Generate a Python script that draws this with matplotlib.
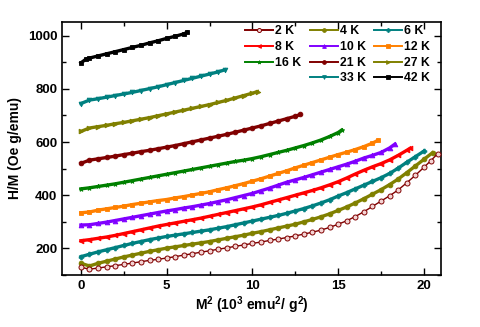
import matplotlib
matplotlib.use('Agg')
import matplotlib.pyplot as plt
from matplotlib.lines import Line2D
from matplotlib.ticker import MultipleLocator

plt.rcParams['font.family'] = ['Liberation Sans', 'DejaVu Sans']
plt.rcParams['font.weight'] = 'bold'
plt.rcParams['mathtext.fontset'] = 'custom'
plt.rcParams['mathtext.rm'] = 'Liberation Sans:bold'
plt.rcParams['mathtext.bf'] = 'Liberation Sans:bold'
plt.rcParams['mathtext.default'] = 'bf'

# ---------------- data (M^2 in 10^3 emu^2/g^2, H/M in Oe g/emu) ----------------
labels = ['2 K', '4 K', '6 K', '8 K', '10 K', '12 K', '16 K', '21 K', '27 K', '33 K', '42 K']

x_2K = [0, 0.5, 1, 1.5, 2, 2.5, 3, 3.5, 4, 4.5, 5, 5.5, 6, 6.5, 7, 7.5, 8, 8.5, 9, 9.5, 10,
        10.5, 11, 11.5, 12, 12.5, 13, 13.5, 14, 14.5, 15, 15.5, 16, 16.5, 17, 17.5, 18, 18.5,
        19, 19.5, 20, 20.4, 20.8]
y_2K = [129, 122, 126, 131, 135, 140, 145, 150, 155, 159, 164, 169, 175, 180, 186, 191, 197,
        202, 208, 213, 219, 224, 230, 235, 241, 247, 254, 261, 269, 279, 291, 304, 320, 338,
        358, 378, 398, 420, 447, 475, 505, 530, 556]

x_4K = [0, 0.5, 1, 1.5, 2, 2.5, 3, 3.5, 4, 4.5, 5, 5.5, 6, 6.5, 7, 7.5, 8, 8.5, 9, 9.5, 10,
        10.5, 11, 11.5, 12, 12.5, 13, 13.5, 14, 14.5, 15, 15.5, 16, 16.5, 17, 17.5, 18, 18.5,
        19, 19.5, 20, 20.5]
y_4K = [144, 134, 144, 152, 160, 168, 175, 182, 189, 195, 201, 206, 211, 216, 221, 226, 232,
        238, 244, 250, 257, 263, 270, 277, 284, 291, 300, 309, 319, 330, 343, 356, 371, 387,
        404, 421, 440, 461, 485, 510, 535, 560]

x_6K = [0, 0.5, 1, 1.5, 2, 2.5, 3, 3.5, 4, 4.5, 5, 5.5, 6, 6.5, 7, 7.5, 8, 8.5, 9, 9.5, 10,
        10.5, 11, 11.5, 12, 12.5, 13, 13.5, 14, 14.5, 15, 15.5, 16, 16.5, 17, 17.5, 18, 18.5,
        19, 19.5, 20]
y_6K = [169, 178, 187, 195, 203, 211, 219, 226, 233, 239, 245, 250, 255, 260, 265, 270, 276,
        282, 289, 296, 303, 310, 317, 324, 332, 341, 350, 360, 371, 383, 397, 410, 424, 438,
        452, 466, 482, 502, 524, 545, 566]

x_8K = [0, 0.5, 1, 1.5, 2, 2.5, 3, 3.5, 4, 4.5, 5, 5.5, 6, 6.5, 7, 7.5, 8, 8.5, 9, 9.5, 10,
        10.5, 11, 11.5, 12, 12.5, 13, 13.5, 14, 14.5, 15, 15.5, 16, 16.5, 17, 17.5, 18, 18.5,
        19, 19.2]
y_8K = [229, 233, 238, 243, 249, 256, 263, 270, 277, 284, 290, 296, 302, 308, 314, 321, 328,
        335, 342, 349, 356, 364, 373, 382, 391, 400, 409, 418, 428, 439, 451, 465, 480, 494,
        507, 519, 533, 550, 569, 577]

x_10K = [0, 0.5, 1, 1.5, 2, 2.5, 3, 3.5, 4, 4.5, 5, 5.5, 6, 6.5, 7, 7.5, 8, 8.5, 9, 9.5, 10,
         10.5, 11, 11.5, 12, 12.5, 13, 13.5, 14, 14.5, 15, 15.5, 16, 16.5, 17, 17.5, 18, 18.3]
y_10K = [288, 289, 294, 299, 305, 311, 317, 323, 329, 335, 341, 346, 352, 357, 363, 369, 376,
         383, 391, 399, 407, 417, 427, 438, 449, 458, 467, 477, 487, 497, 507, 517, 528, 540,
         550, 561, 578, 592]

x_12K = [0, 0.5, 1, 1.5, 2, 2.5, 3, 3.5, 4, 4.5, 5, 5.5, 6, 6.5, 7, 7.5, 8, 8.5, 9, 9.5, 10,
         10.5, 11, 11.5, 12, 12.5, 13, 13.5, 14, 14.5, 15, 15.5, 16, 16.5, 17, 17.3]
y_12K = [334, 337, 344, 349, 354, 359, 365, 370, 375, 380, 384, 390, 395, 401, 407, 413, 421,
         428, 436, 444, 453, 462, 472, 482, 492, 503, 513, 523, 533, 543, 553, 562, 572, 583,
         596, 606]

x_16K = [0, 0.5, 1, 1.5, 2, 2.5, 3, 3.5, 4, 4.5, 5, 5.5, 6, 6.5, 7, 7.5, 8, 8.5, 9, 9.5, 10,
         10.5, 11, 11.5, 12, 12.5, 13, 13.5, 14, 14.5, 15, 15.2]
y_16K = [424, 428, 433, 438, 443, 449, 455, 461, 467, 473, 479, 485, 491, 497, 503, 509, 515,
         521, 527, 532, 538, 545, 553, 561, 569, 578, 587, 597, 608, 621, 636, 645]

x_21K = [0, 0.5, 1, 1.5, 2, 2.5, 3, 3.5, 4, 4.5, 5, 5.5, 6, 6.5, 7, 7.5, 8, 8.5, 9, 9.5, 10,
         10.5, 11, 11.5, 12, 12.5, 12.8]
y_21K = [520, 532, 537, 542, 547, 553, 558, 564, 569, 575, 581, 587, 594, 601, 608, 615, 622,
         629, 637, 645, 653, 661, 670, 679, 688, 697, 704]

x_27K = [0, 0.5, 1, 1.5, 2, 2.5, 3, 3.5, 4, 4.5, 5, 5.5, 6, 6.5, 7, 7.5, 8, 8.5, 9, 9.5, 10,
         10.3]
y_27K = [640, 653, 658, 663, 669, 674, 680, 686, 692, 699, 706, 713, 720, 727, 734, 741, 749,
         757, 766, 775, 784, 790]

x_33K = [0, 0.5, 1, 1.5, 2, 2.5, 3, 3.5, 4, 4.5, 5, 5.5, 6, 6.5, 7, 7.5, 8, 8.4]
y_33K = [745, 758, 763, 769, 775, 781, 787, 794, 801, 808, 816, 824, 832, 840, 848, 856, 864,
         872]

x_42K = [0, 0.3, 0.5, 1, 1.5, 2, 2.5, 3, 3.5, 4, 4.5, 5, 5.5, 6, 6.2]
y_42K = [898, 912, 916, 924, 932, 940, 948, 956, 964, 973, 981, 990, 998, 1007, 1013]

xs = [x_2K, x_4K, x_6K, x_8K, x_10K, x_12K, x_16K, x_21K, x_27K, x_33K, x_42K]
ys = [y_2K, y_4K, y_6K, y_8K, y_10K, y_12K, y_16K, y_21K, y_27K, y_33K, y_42K]

colors = ['#800000', '#808000', '#008080', '#FF0000', '#8000FF', '#FF8000',
          '#008000', '#800000', '#808000', '#008080', '#000000']
markers = ['o', 'o', 'P', '<', '^', 's', '*', 'o', '>', 'v', 's']

# ---------------- figure ----------------
fig = plt.figure(figsize=(4.81, 3.27), dpi=100)
ax = fig.add_axes([0.129, 0.159, 0.788, 0.774])

handles = []
for i, (x, y, c, m, lab) in enumerate(zip(xs, ys, colors, markers, labels)):
    if i == 0:
        kw = dict(ms=3.6, mfc='#f4d4d4', lw=1.0, mew=0.7)
    else:
        kw = dict(ms=3.4, mfc=c, lw=2.4, mew=0.6)
    ln, = ax.plot(x, y, color=c, marker=m, mec=c, label=lab, zorder=20 - i, **kw)
    handles.append(ln)

ax.set_xlim(-1.1, 21.0)
ax.set_ylim(100, 1052)
ax.xaxis.set_major_locator(MultipleLocator(5))
ax.xaxis.set_minor_locator(MultipleLocator(2.5))
ax.yaxis.set_major_locator(MultipleLocator(200))
ax.yaxis.set_minor_locator(MultipleLocator(100))
ax.tick_params(which='both', direction='in', top=True, right=True, labelsize=9.5, width=1.0)
ax.tick_params(which='major', length=5)
ax.tick_params(which='minor', length=3)
for lab in ax.get_xticklabels() + ax.get_yticklabels():
    lab.set_fontweight('bold')
for s in ax.spines.values():
    s.set_linewidth(1.2)

ax.set_xlabel(r'M$^{2}$ (10$^{3}$ emu$^{2}$/ g$^{2}$)', fontsize=10, fontweight='bold', labelpad=2)
ax.set_ylabel('H/M (Oe g/emu)', fontsize=10, fontweight='bold', labelpad=4)

blank = Line2D([], [], color='none')
order = [handles[0], handles[3], handles[6], blank,
         handles[1], handles[4], handles[7], handles[9],
         handles[2], handles[5], handles[8], handles[10]]
order_labels = ['2 K', '8 K', '16 K', '',
                '4 K', '10 K', '21 K', '33 K',
                '6 K', '12 K', '27 K', '42 K']
leg = ax.legend(order, order_labels, ncol=3, loc='upper right', bbox_to_anchor=(0.99, 1.015),
                frameon=False, handlelength=2.3, handletextpad=0.15,
                columnspacing=0.7, labelspacing=0.3, borderaxespad=0.2, markerscale=0.8,
                prop={'weight': 'bold', 'size': 8.8})
for h in leg.legend_handles:
    h.set_linewidth(1.4)

fig.savefig('out.png', dpi=100)
